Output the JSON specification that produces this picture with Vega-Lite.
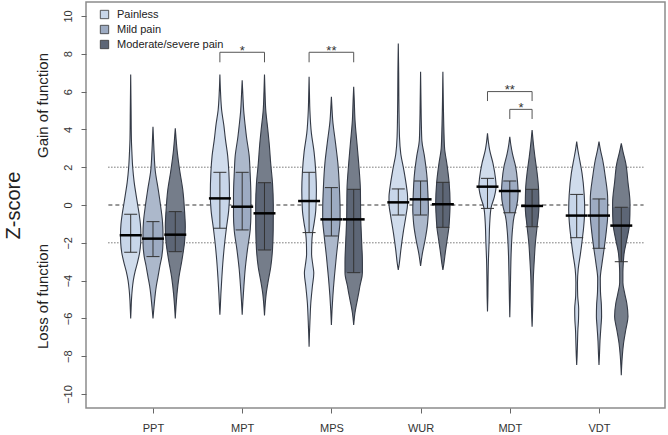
{
"$schema": "https://vega.github.io/schema/vega-lite/v6.json",
"width": 579, "height": 406, "autosize": "none",
"padding": {"left": 86, "top": 2, "right": 3, "bottom": 27},
"config": {"font": "Liberation Sans", "view": {"stroke": "#8c8c8c", "strokeWidth": 1.5}},
"resolve": {"axis": {"x": "independent", "y": "independent"}},
"datasets": {
"violin": [
{"t":"PPT","g":"P","z":6.9,"w":0},{"t":"PPT","g":"P","z":5,"w":0.4},{"t":"PPT","g":"P","z":3.5,"w":0.7},{"t":"PPT","g":"P","z":2.8,"w":1.2},{"t":"PPT","g":"P","z":2,"w":2},{"t":"PPT","g":"P","z":1.2,"w":3.5},{"t":"PPT","g":"P","z":0.5,"w":5.5},{"t":"PPT","g":"P","z":0,"w":7},{"t":"PPT","g":"P","z":-0.49,"w":8.5},{"t":"PPT","g":"P","z":-1,"w":9.7},{"t":"PPT","g":"P","z":-1.6,"w":10.2},{"t":"PPT","g":"P","z":-2,"w":10},{"t":"PPT","g":"P","z":-2.5,"w":9},{"t":"PPT","g":"P","z":-3,"w":7},{"t":"PPT","g":"P","z":-3.5,"w":4.5},{"t":"PPT","g":"P","z":-4,"w":2.6},{"t":"PPT","g":"P","z":-4.5,"w":1.5},{"t":"PPT","g":"P","z":-5,"w":0.8},{"t":"PPT","g":"P","z":-5.5,"w":0.4},{"t":"PPT","g":"P","z":-6,"w":0},
{"t":"PPT","g":"M","z":4.14,"w":0},{"t":"PPT","g":"M","z":3.5,"w":0.5},{"t":"PPT","g":"M","z":2.9,"w":1},{"t":"PPT","g":"M","z":1.8,"w":2.3},{"t":"PPT","g":"M","z":0.8,"w":5.3},{"t":"PPT","g":"M","z":0,"w":7.5},{"t":"PPT","g":"M","z":-0.88,"w":9.5},{"t":"PPT","g":"M","z":-1.5,"w":10},{"t":"PPT","g":"M","z":-2,"w":10},{"t":"PPT","g":"M","z":-2.73,"w":8.8},{"t":"PPT","g":"M","z":-3.2,"w":7},{"t":"PPT","g":"M","z":-3.8,"w":5},{"t":"PPT","g":"M","z":-4.3,"w":3.3},{"t":"PPT","g":"M","z":-4.7,"w":2.3},{"t":"PPT","g":"M","z":-5.4,"w":1},{"t":"PPT","g":"M","z":-6,"w":0},
{"t":"PPT","g":"S","z":4.06,"w":0},{"t":"PPT","g":"S","z":3.5,"w":0.8},{"t":"PPT","g":"S","z":2.9,"w":1.8},{"t":"PPT","g":"S","z":1.8,"w":4.5},{"t":"PPT","g":"S","z":0.8,"w":7.5},{"t":"PPT","g":"S","z":-0.35,"w":9.3},{"t":"PPT","g":"S","z":-1.15,"w":10},{"t":"PPT","g":"S","z":-2,"w":9.2},{"t":"PPT","g":"S","z":-2.47,"w":8},{"t":"PPT","g":"S","z":-2.9,"w":6.7},{"t":"PPT","g":"S","z":-3.8,"w":3.7},{"t":"PPT","g":"S","z":-4.7,"w":1.7},{"t":"PPT","g":"S","z":-5.3,"w":0.8},{"t":"PPT","g":"S","z":-6,"w":0},
{"t":"MPT","g":"P","z":6.9,"w":0},{"t":"MPT","g":"P","z":6,"w":0.6},{"t":"MPT","g":"P","z":5,"w":1.8},{"t":"MPT","g":"P","z":4.2,"w":4},{"t":"MPT","g":"P","z":3.5,"w":5.5},{"t":"MPT","g":"P","z":2.6,"w":7.8},{"t":"MPT","g":"P","z":1.73,"w":9},{"t":"MPT","g":"P","z":0.5,"w":9.6},{"t":"MPT","g":"P","z":-0.3,"w":8.8},{"t":"MPT","g":"P","z":-1.23,"w":6.5},{"t":"MPT","g":"P","z":-2,"w":4.8},{"t":"MPT","g":"P","z":-2.9,"w":3.2},{"t":"MPT","g":"P","z":-3.8,"w":2},{"t":"MPT","g":"P","z":-4.7,"w":1},{"t":"MPT","g":"P","z":-5.3,"w":0.5},{"t":"MPT","g":"P","z":-5.8,"w":0},
{"t":"MPT","g":"M","z":6.6,"w":0},{"t":"MPT","g":"M","z":5.8,"w":0.7},{"t":"MPT","g":"M","z":5,"w":1.5},{"t":"MPT","g":"M","z":4.2,"w":3},{"t":"MPT","g":"M","z":3.6,"w":4.3},{"t":"MPT","g":"M","z":2.6,"w":7},{"t":"MPT","g":"M","z":1.73,"w":7.9},{"t":"MPT","g":"M","z":0.5,"w":8.7},{"t":"MPT","g":"M","z":-0.6,"w":8.7},{"t":"MPT","g":"M","z":-1.32,"w":8},{"t":"MPT","g":"M","z":-2.35,"w":5.3},{"t":"MPT","g":"M","z":-3.4,"w":3},{"t":"MPT","g":"M","z":-4.3,"w":1.7},{"t":"MPT","g":"M","z":-5.1,"w":0.7},{"t":"MPT","g":"M","z":-5.8,"w":0},
{"t":"MPT","g":"S","z":6.9,"w":0},{"t":"MPT","g":"S","z":6,"w":0.5},{"t":"MPT","g":"S","z":5,"w":1.3},{"t":"MPT","g":"S","z":4,"w":3.3},{"t":"MPT","g":"S","z":3.25,"w":4.7},{"t":"MPT","g":"S","z":2.2,"w":6.2},{"t":"MPT","g":"S","z":1.18,"w":8},{"t":"MPT","g":"S","z":0,"w":8.8},{"t":"MPT","g":"S","z":-1.3,"w":8.7},{"t":"MPT","g":"S","z":-2.38,"w":8},{"t":"MPT","g":"S","z":-3.3,"w":6.2},{"t":"MPT","g":"S","z":-4,"w":3.8},{"t":"MPT","g":"S","z":-4.7,"w":1.7},{"t":"MPT","g":"S","z":-5.2,"w":0.8},{"t":"MPT","g":"S","z":-5.85,"w":0},
{"t":"MPS","g":"P","z":6.79,"w":0},{"t":"MPS","g":"P","z":5.8,"w":0.4},{"t":"MPS","g":"P","z":5,"w":0.8},{"t":"MPS","g":"P","z":3.8,"w":2.3},{"t":"MPS","g":"P","z":2.8,"w":5},{"t":"MPS","g":"P","z":1.73,"w":6.7},{"t":"MPS","g":"P","z":0.8,"w":7.3},{"t":"MPS","g":"P","z":-0.26,"w":6.7},{"t":"MPS","g":"P","z":-0.97,"w":5},{"t":"MPS","g":"P","z":-1.46,"w":3.5},{"t":"MPS","g":"P","z":-2,"w":2.7},{"t":"MPS","g":"P","z":-2.6,"w":2.5},{"t":"MPS","g":"P","z":-3.2,"w":3.8},{"t":"MPS","g":"P","z":-3.6,"w":4.7},{"t":"MPS","g":"P","z":-4.3,"w":3.3},{"t":"MPS","g":"P","z":-5.2,"w":1.7},{"t":"MPS","g":"P","z":-6.1,"w":0.9},{"t":"MPS","g":"P","z":-6.8,"w":0.4},{"t":"MPS","g":"P","z":-7.5,"w":0},
{"t":"MPS","g":"M","z":5.73,"w":0},{"t":"MPS","g":"M","z":5.1,"w":0.6},{"t":"MPS","g":"M","z":4.5,"w":1.3},{"t":"MPS","g":"M","z":3.25,"w":4.2},{"t":"MPS","g":"M","z":2.2,"w":6.5},{"t":"MPS","g":"M","z":0.92,"w":8},{"t":"MPS","g":"M","z":-0.26,"w":8.7},{"t":"MPS","g":"M","z":-0.76,"w":8.7},{"t":"MPS","g":"M","z":-1.64,"w":7.2},{"t":"MPS","g":"M","z":-2.7,"w":5},{"t":"MPS","g":"M","z":-3.8,"w":3},{"t":"MPS","g":"M","z":-4.8,"w":1.5},{"t":"MPS","g":"M","z":-5.6,"w":0.6},{"t":"MPS","g":"M","z":-6.35,"w":0},
{"t":"MPS","g":"S","z":6.26,"w":0},{"t":"MPS","g":"S","z":5.5,"w":0.6},{"t":"MPS","g":"S","z":4.5,"w":1.3},{"t":"MPS","g":"S","z":3.25,"w":3.3},{"t":"MPS","g":"S","z":2.2,"w":5},{"t":"MPS","g":"S","z":0.83,"w":6.7},{"t":"MPS","g":"S","z":-0.6,"w":7},{"t":"MPS","g":"S","z":-2,"w":8},{"t":"MPS","g":"S","z":-3,"w":8.7},{"t":"MPS","g":"S","z":-3.58,"w":8.7},{"t":"MPS","g":"S","z":-4.3,"w":6.2},{"t":"MPS","g":"S","z":-4.8,"w":4.5},{"t":"MPS","g":"S","z":-5.2,"w":3},{"t":"MPS","g":"S","z":-5.7,"w":1.3},{"t":"MPS","g":"S","z":-6.35,"w":0},
{"t":"WUR","g":"P","z":8.55,"w":0},{"t":"WUR","g":"P","z":7,"w":0.4},{"t":"WUR","g":"P","z":5,"w":0.7},{"t":"WUR","g":"P","z":3.6,"w":1.2},{"t":"WUR","g":"P","z":2.7,"w":2.5},{"t":"WUR","g":"P","z":1.86,"w":5.5},{"t":"WUR","g":"P","z":0.85,"w":8.5},{"t":"WUR","g":"P","z":0.45,"w":9.3},{"t":"WUR","g":"P","z":0,"w":9.2},{"t":"WUR","g":"P","z":-0.53,"w":7.8},{"t":"WUR","g":"P","z":-1.5,"w":4.8},{"t":"WUR","g":"P","z":-2.4,"w":2.5},{"t":"WUR","g":"P","z":-3.1,"w":1},{"t":"WUR","g":"P","z":-3.44,"w":0},
{"t":"WUR","g":"M","z":7.05,"w":0},{"t":"WUR","g":"M","z":5.5,"w":0.4},{"t":"WUR","g":"M","z":4.2,"w":0.8},{"t":"WUR","g":"M","z":3.4,"w":1.3},{"t":"WUR","g":"M","z":2.6,"w":3.8},{"t":"WUR","g":"M","z":1.6,"w":6.2},{"t":"WUR","g":"M","z":1.27,"w":6.7},{"t":"WUR","g":"M","z":0.74,"w":7.2},{"t":"WUR","g":"M","z":-0.26,"w":7.8},{"t":"WUR","g":"M","z":-0.53,"w":7.6},{"t":"WUR","g":"M","z":-0.97,"w":7},{"t":"WUR","g":"M","z":-1.85,"w":4.5},{"t":"WUR","g":"M","z":-2.56,"w":1.8},{"t":"WUR","g":"M","z":-3.23,"w":0},
{"t":"WUR","g":"S","z":7.05,"w":0},{"t":"WUR","g":"S","z":5.5,"w":0.4},{"t":"WUR","g":"S","z":4,"w":1},{"t":"WUR","g":"S","z":3,"w":1.7},{"t":"WUR","g":"S","z":2.1,"w":4.2},{"t":"WUR","g":"S","z":1.2,"w":6.2},{"t":"WUR","g":"S","z":0.1,"w":7.2},{"t":"WUR","g":"S","z":-0.97,"w":6.3},{"t":"WUR","g":"S","z":-1.18,"w":6},{"t":"WUR","g":"S","z":-1.68,"w":4.7},{"t":"WUR","g":"S","z":-2.4,"w":2.7},{"t":"WUR","g":"S","z":-3.1,"w":1},{"t":"WUR","g":"S","z":-3.44,"w":0},
{"t":"MDT","g":"P","z":3.79,"w":0},{"t":"MDT","g":"P","z":3.3,"w":1},{"t":"MDT","g":"P","z":2.9,"w":2.2},{"t":"MDT","g":"P","z":2.2,"w":5.5},{"t":"MDT","g":"P","z":1.41,"w":8},{"t":"MDT","g":"P","z":1,"w":8.6},{"t":"MDT","g":"P","z":0.45,"w":7},{"t":"MDT","g":"P","z":-0.1,"w":3.8},{"t":"MDT","g":"P","z":-0.18,"w":3.5},{"t":"MDT","g":"P","z":-1,"w":2.2},{"t":"MDT","g":"P","z":-2,"w":1.6},{"t":"MDT","g":"P","z":-2.8,"w":1},{"t":"MDT","g":"P","z":-3.8,"w":0.6},{"t":"MDT","g":"P","z":-4.8,"w":0.4},{"t":"MDT","g":"P","z":-5.64,"w":0},
{"t":"MDT","g":"M","z":3.61,"w":0},{"t":"MDT","g":"M","z":3.2,"w":1},{"t":"MDT","g":"M","z":2.7,"w":2.7},{"t":"MDT","g":"M","z":2.04,"w":5.8},{"t":"MDT","g":"M","z":1.27,"w":7.7},{"t":"MDT","g":"M","z":0.62,"w":8.3},{"t":"MDT","g":"M","z":-0.1,"w":6.7},{"t":"MDT","g":"M","z":-0.41,"w":5.2},{"t":"MDT","g":"M","z":-0.6,"w":4.3},{"t":"MDT","g":"M","z":-1.3,"w":2.7},{"t":"MDT","g":"M","z":-2.35,"w":1.5},{"t":"MDT","g":"M","z":-3.8,"w":0.8},{"t":"MDT","g":"M","z":-5,"w":0.4},{"t":"MDT","g":"M","z":-5.94,"w":0},
{"t":"MDT","g":"S","z":3.97,"w":0},{"t":"MDT","g":"S","z":3.4,"w":1},{"t":"MDT","g":"S","z":2.56,"w":2.8},{"t":"MDT","g":"S","z":1.7,"w":5},{"t":"MDT","g":"S","z":0.83,"w":6.5},{"t":"MDT","g":"S","z":-0.1,"w":6.8},{"t":"MDT","g":"S","z":-1.15,"w":5},{"t":"MDT","g":"S","z":-2,"w":3.3},{"t":"MDT","g":"S","z":-2.9,"w":2.2},{"t":"MDT","g":"S","z":-3.8,"w":1.3},{"t":"MDT","g":"S","z":-5.2,"w":0.7},{"t":"MDT","g":"S","z":-6,"w":0.3},{"t":"MDT","g":"S","z":-6.44,"w":0},
{"t":"VDT","g":"P","z":3.35,"w":0},{"t":"VDT","g":"P","z":2.9,"w":1.2},{"t":"VDT","g":"P","z":2.38,"w":3},{"t":"VDT","g":"P","z":1.7,"w":5.3},{"t":"VDT","g":"P","z":0.56,"w":7.5},{"t":"VDT","g":"P","z":-0.26,"w":8},{"t":"VDT","g":"P","z":-1.15,"w":7},{"t":"VDT","g":"P","z":-1.73,"w":5.8},{"t":"VDT","g":"P","z":-2.6,"w":3.7},{"t":"VDT","g":"P","z":-3.4,"w":1.5},{"t":"VDT","g":"P","z":-4.1,"w":0.8},{"t":"VDT","g":"P","z":-4.8,"w":1},{"t":"VDT","g":"P","z":-5.5,"w":2},{"t":"VDT","g":"P","z":-6.1,"w":1.8},{"t":"VDT","g":"P","z":-6.6,"w":1.2},{"t":"VDT","g":"P","z":-7.3,"w":0.8},{"t":"VDT","g":"P","z":-8,"w":0.4},{"t":"VDT","g":"P","z":-8.47,"w":0},
{"t":"VDT","g":"M","z":3.35,"w":0},{"t":"VDT","g":"M","z":2.9,"w":1.5},{"t":"VDT","g":"M","z":2.38,"w":3.7},{"t":"VDT","g":"M","z":1.5,"w":6.3},{"t":"VDT","g":"M","z":0.32,"w":8.7},{"t":"VDT","g":"M","z":-0.56,"w":8.7},{"t":"VDT","g":"M","z":-1.3,"w":7.5},{"t":"VDT","g":"M","z":-2.29,"w":5.2},{"t":"VDT","g":"M","z":-3.1,"w":3},{"t":"VDT","g":"M","z":-3.9,"w":1.3},{"t":"VDT","g":"M","z":-4.6,"w":1.5},{"t":"VDT","g":"M","z":-5.3,"w":2.4},{"t":"VDT","g":"M","z":-5.9,"w":2.6},{"t":"VDT","g":"M","z":-6.4,"w":2},{"t":"VDT","g":"M","z":-7.2,"w":1},{"t":"VDT","g":"M","z":-7.9,"w":0.5},{"t":"VDT","g":"M","z":-8.47,"w":0},
{"t":"VDT","g":"S","z":3.26,"w":0},{"t":"VDT","g":"S","z":2.8,"w":1.8},{"t":"VDT","g":"S","z":2.2,"w":4.5},{"t":"VDT","g":"S","z":1.2,"w":6.7},{"t":"VDT","g":"S","z":0.1,"w":8.7},{"t":"VDT","g":"S","z":-0.12,"w":8.7},{"t":"VDT","g":"S","z":-0.97,"w":8.3},{"t":"VDT","g":"S","z":-1.85,"w":5.5},{"t":"VDT","g":"S","z":-2.56,"w":2.8},{"t":"VDT","g":"S","z":-3,"w":2.1},{"t":"VDT","g":"S","z":-3.6,"w":1.6},{"t":"VDT","g":"S","z":-4.1,"w":1.6},{"t":"VDT","g":"S","z":-4.7,"w":3.5},{"t":"VDT","g":"S","z":-5.2,"w":5.5},{"t":"VDT","g":"S","z":-5.9,"w":6.7},{"t":"VDT","g":"S","z":-6.6,"w":4.5},{"t":"VDT","g":"S","z":-7.3,"w":2.3},{"t":"VDT","g":"S","z":-8,"w":1},{"t":"VDT","g":"S","z":-8.5,"w":0.4},{"t":"VDT","g":"S","z":-9,"w":0}
],
"summary": [
{"k":"PPTP","t":"PPT","g":"P","lo":-2.5,"hi":-0.49,"m":-1.6},
{"k":"PPTM","t":"PPT","g":"M","lo":-2.73,"hi":-0.88,"m":-1.78},
{"k":"PPTS","t":"PPT","g":"S","lo":-2.47,"hi":-0.35,"m":-1.57},
{"k":"MPTP","t":"MPT","g":"P","lo":-1.23,"hi":1.73,"m":0.35},
{"k":"MPTM","t":"MPT","g":"M","lo":-1.32,"hi":1.73,"m":-0.09},
{"k":"MPTS","t":"MPT","g":"S","lo":-2.38,"hi":1.18,"m":-0.44},
{"k":"MPSP","t":"MPS","g":"P","lo":-1.46,"hi":1.73,"m":0.21},
{"k":"MPSM","t":"MPS","g":"M","lo":-1.64,"hi":0.92,"m":-0.76},
{"k":"MPSS","t":"MPS","g":"S","lo":-3.58,"hi":0.83,"m":-0.76},
{"k":"WURP","t":"WUR","g":"P","lo":-0.53,"hi":0.85,"m":0.14},
{"k":"WURM","t":"WUR","g":"M","lo":-0.53,"hi":1.27,"m":0.3},
{"k":"WURS","t":"WUR","g":"S","lo":-1.18,"hi":1.2,"m":0.04},
{"k":"MDTP","t":"MDT","g":"P","lo":-0.18,"hi":1.41,"m":0.97},
{"k":"MDTM","t":"MDT","g":"M","lo":-0.41,"hi":1.27,"m":0.74},
{"k":"MDTS","t":"MDT","g":"S","lo":-1.15,"hi":0.83,"m":-0.05},
{"k":"VDTP","t":"VDT","g":"P","lo":-1.73,"hi":0.56,"m":-0.56},
{"k":"VDTM","t":"VDT","g":"M","lo":-2.29,"hi":0.32,"m":-0.56},
{"k":"VDTS","t":"VDT","g":"S","lo":-3.0,"hi":-0.12,"m":-1.09}
],
"refs": [{"z":0,"kind":"dash"},{"z":2,"kind":"dot"},{"z":-2,"kind":"dot"}],
"brackets": [
{"t":"MPT","a":"P","b":"S","top":8.08,"bot":7.55,"s":"*"},
{"t":"MPS","a":"P","b":"S","top":8.08,"bot":7.55,"s":"**"},
{"t":"MDT","a":"P","b":"S","top":6.0,"bot":5.5,"s":"**"},
{"t":"MDT","a":"M","b":"S","top":5.06,"bot":4.55,"s":"*"}
]
},
"layer": [
{
"data": {"name": "refs"},
"mark": {"type": "rule", "color": "#333", "strokeWidth": 1},
"encoding": {
"y": {"field": "z", "type": "quantitative", "scale": {"domain": [-10.74, 10.74], "nice": false, "zero": false},
 "axis": {"orient": "left", "values": [-10,-8,-6,-4,-2,0,2,4,6,8,10], "labelAngle": -90, "labelAlign": "center", "labelBaseline": "bottom", "labelPadding": 8, "labelFontSize": 11, "labelColor": "#333", "tickSize": 5, "tickColor": "#666", "domain": false, "grid": false, "title": "Z-score", "titleFontSize": 20, "titleFontWeight": "normal", "titleColor": "#222", "titleX": -73, "titleY": 203, "titleAngle": -90, "titleAlign": "center", "titleBaseline": "middle"}},
"x": {"datum": 0.5, "type": "quantitative", "scale": {"domain": [0.249, 6.74], "nice": false, "zero": false}, "axis": null},
"x2": {"datum": 6.5},
"strokeDash": {"field": "kind", "type": "nominal", "scale": {"domain": ["dash", "dot"], "range": [[4, 3], [1, 2]]}, "legend": null}
}
},
{
"data": {"name": "violin"},
"transform": [
{"calculate": "indexof(['PPT','MPT','MPS','WUR','MDT','VDT'], datum.t) + 1 + (indexof(['P','M','S'], datum.g) - 1) * 0.25", "as": "xc"},
{"calculate": "datum.xc - datum.w * 0.01121", "as": "xl"},
{"calculate": "datum.xc + datum.w * 0.01121", "as": "xr"}
],
"mark": {"type": "area", "orient": "horizontal", "interpolate": "monotone", "fill": "white"},
"encoding": {
"y": {"field": "z", "type": "quantitative", "scale": {"domain": [-10.74, 10.74], "nice": false, "zero": false},
 "axis": {"orient": "left", "title": "Gain of function", "labels": false, "ticks": false, "domain": false, "grid": false, "titleFontSize": 15, "titleFontWeight": "normal", "titleColor": "#222", "titleX": -44, "titleY": 103, "titleAngle": -90, "titleAlign": "center", "titleBaseline": "middle"}},
"x": {"field": "xl", "type": "quantitative", "scale": {"domain": [0.249, 6.74], "nice": false, "zero": false},
 "axis": {"orient": "bottom", "values": [1,2,3,4,5,6], "labelExpr": "datum.value == 1 ? 'PPT' : datum.value == 2 ? 'MPT' : datum.value == 3 ? 'MPS' : datum.value == 4 ? 'WUR' : datum.value == 5 ? 'MDT' : 'VDT'", "title": null, "labelFontSize": 11, "labelColor": "#333", "tickSize": 5, "tickColor": "#666", "labelPadding": 9, "domain": false, "grid": false, "labelFlush": false}},
"x2": {"field": "xr"},
"detail": [{"field": "t"}, {"field": "g"}]
}
},
{
"data": {"name": "violin"},
"transform": [
{"calculate": "indexof(['PPT','MPT','MPS','WUR','MDT','VDT'], datum.t) + 1 + (indexof(['P','M','S'], datum.g) - 1) * 0.25", "as": "xc"},
{"calculate": "datum.xc - datum.w * 0.01121", "as": "xl"},
{"calculate": "datum.xc + datum.w * 0.01121", "as": "xr"}
],
"mark": {"type": "area", "orient": "horizontal", "interpolate": "monotone", "fillOpacity": 0.85},
"encoding": {
"y": {"field": "z", "type": "quantitative", "scale": {"domain": [-10.74, 10.74], "nice": false, "zero": false}, "axis": null},
"x": {"field": "xl", "type": "quantitative", "scale": {"domain": [0.249, 6.74], "nice": false, "zero": false}, "axis": null},
"x2": {"field": "xr"},
"color": {"field": "g", "type": "nominal", "scale": {"domain": ["P", "M", "S"], "range": ["#c8d6e9", "#9dabc2", "#5d6676"]},
 "legend": {"title": null, "orient": "none", "legendX": 13, "legendY": 7, "symbolType": "square", "symbolSize": 70, "symbolStrokeColor": "#333", "symbolStrokeWidth": 0.8, "symbolOpacity": 1, "labelFontSize": 11, "labelColor": "#222", "rowPadding": 2, "labelOffset": 7, "padding": 0, "labelExpr": "datum.label == 'P' ? 'Painless' : datum.label == 'M' ? 'Mild pain' : 'Moderate/severe pain'"}},
"detail": {"field": "t"}
}
},
{
"data": {"name": "violin"},
"transform": [
{"calculate": "indexof(['PPT','MPT','MPS','WUR','MDT','VDT'], datum.t) + 1 + (indexof(['P','M','S'], datum.g) - 1) * 0.25", "as": "xc"},
{"calculate": "datum.xc - datum.w * 0.01121", "as": "xl"},
{"calculate": "datum.xc + datum.w * 0.01121", "as": "xr"},
{"calculate": "datum.t + datum.g", "as": "k"},
{"lookup": "k", "from": {"data": {"name": "summary"}, "key": "k", "fields": ["lo", "hi"]}},
{"filter": "datum.z >= datum.lo - 0.001 && datum.z <= datum.hi + 0.001"}
],
"mark": {"type": "area", "orient": "horizontal", "interpolate": "monotone"},
"encoding": {
"y": {"field": "z", "type": "quantitative", "scale": {"domain": [-10.74, 10.74], "nice": false, "zero": false},
 "axis": {"orient": "left", "title": "Loss of function", "labels": false, "ticks": false, "domain": false, "grid": false, "titleFontSize": 15, "titleFontWeight": "normal", "titleColor": "#222", "titleX": -44, "titleY": 294, "titleAngle": -90, "titleAlign": "center", "titleBaseline": "middle"}},
"x": {"field": "xl", "type": "quantitative", "scale": {"domain": [0.249, 6.74], "nice": false, "zero": false}, "axis": null},
"x2": {"field": "xr"},
"color": {"field": "g", "type": "nominal", "scale": {"domain": ["P", "M", "S"], "range": ["#c8d6e9", "#9dabc2", "#5d6676"]}, "legend": null},
"detail": {"field": "t"}
}
},
{
"data": {"name": "violin"},
"transform": [
{"calculate": "indexof(['PPT','MPT','MPS','WUR','MDT','VDT'], datum.t) + 1 + (indexof(['P','M','S'], datum.g) - 1) * 0.25", "as": "xc"},
{"calculate": "datum.xc - datum.w * 0.01121", "as": "xl"},
{"calculate": "datum.xc + datum.w * 0.01121", "as": "xr"}
],
"mark": {"type": "area", "orient": "horizontal", "interpolate": "monotone", "fillOpacity": 0, "stroke": "#343a46", "strokeWidth": 1.1},
"encoding": {
"y": {"field": "z", "type": "quantitative", "scale": {"domain": [-10.74, 10.74], "nice": false, "zero": false}, "axis": null},
"x": {"field": "xl", "type": "quantitative", "scale": {"domain": [0.249, 6.74], "nice": false, "zero": false}, "axis": null},
"x2": {"field": "xr"},
"detail": [{"field": "t"}, {"field": "g"}]
}
},
{
"data": {"name": "summary"},
"transform": [
{"calculate": "indexof(['PPT','MPT','MPS','WUR','MDT','VDT'], datum.t) + 1 + (indexof(['P','M','S'], datum.g) - 1) * 0.25", "as": "xc"}
],
"mark": {"type": "rule", "color": "#333", "strokeWidth": 1},
"encoding": {
"x": {"field": "xc", "type": "quantitative", "scale": {"domain": [0.249, 6.74], "nice": false, "zero": false}, "axis": null},
"y": {"field": "lo", "type": "quantitative", "scale": {"domain": [-10.74, 10.74], "nice": false, "zero": false}, "axis": null},
"y2": {"field": "hi"}
}
},
{
"data": {"name": "summary"},
"transform": [
{"calculate": "indexof(['PPT','MPT','MPS','WUR','MDT','VDT'], datum.t) + 1 + (indexof(['P','M','S'], datum.g) - 1) * 0.25", "as": "xc"},
{"fold": ["lo", "hi"], "as": ["cap", "cz"]},
{"calculate": "datum.xc - 0.073", "as": "cl"},
{"calculate": "datum.xc + 0.073", "as": "cr"}
],
"mark": {"type": "rule", "color": "#333", "strokeWidth": 1},
"encoding": {
"x": {"field": "cl", "type": "quantitative", "scale": {"domain": [0.249, 6.74], "nice": false, "zero": false}, "axis": null},
"x2": {"field": "cr"},
"y": {"field": "cz", "type": "quantitative", "scale": {"domain": [-10.74, 10.74], "nice": false, "zero": false}, "axis": null}
}
},
{
"data": {"name": "summary"},
"transform": [
{"calculate": "indexof(['PPT','MPT','MPS','WUR','MDT','VDT'], datum.t) + 1 + (indexof(['P','M','S'], datum.g) - 1) * 0.25", "as": "xc"},
{"calculate": "datum.xc - 0.123", "as": "ml"},
{"calculate": "datum.xc + 0.123", "as": "mr"}
],
"mark": {"type": "rule", "color": "#000", "strokeWidth": 2.5},
"encoding": {
"x": {"field": "ml", "type": "quantitative", "scale": {"domain": [0.249, 6.74], "nice": false, "zero": false}, "axis": null},
"x2": {"field": "mr"},
"y": {"field": "m", "type": "quantitative", "scale": {"domain": [-10.74, 10.74], "nice": false, "zero": false}, "axis": null}
}
},
{
"data": {"name": "brackets"},
"transform": [
{"calculate": "indexof(['PPT','MPT','MPS','WUR','MDT','VDT'], datum.t) + 1 + (indexof(['P','M','S'], datum.a) - 1) * 0.25", "as": "xa"},
{"calculate": "indexof(['PPT','MPT','MPS','WUR','MDT','VDT'], datum.t) + 1 + (indexof(['P','M','S'], datum.b) - 1) * 0.25", "as": "xb"}
],
"mark": {"type": "rule", "color": "#555", "strokeWidth": 1},
"encoding": {
"x": {"field": "xa", "type": "quantitative", "scale": {"domain": [0.249, 6.74], "nice": false, "zero": false}, "axis": null},
"x2": {"field": "xb"},
"y": {"field": "top", "type": "quantitative", "scale": {"domain": [-10.74, 10.74], "nice": false, "zero": false}, "axis": null}
}
},
{
"data": {"name": "brackets"},
"transform": [
{"calculate": "indexof(['PPT','MPT','MPS','WUR','MDT','VDT'], datum.t) + 1 + (indexof(['P','M','S'], datum.a) - 1) * 0.25", "as": "xa"},
{"calculate": "indexof(['PPT','MPT','MPS','WUR','MDT','VDT'], datum.t) + 1 + (indexof(['P','M','S'], datum.b) - 1) * 0.25", "as": "xb"},
{"fold": ["xa", "xb"], "as": ["side", "lx"]}
],
"mark": {"type": "rule", "color": "#555", "strokeWidth": 1},
"encoding": {
"x": {"field": "lx", "type": "quantitative", "scale": {"domain": [0.249, 6.74], "nice": false, "zero": false}, "axis": null},
"y": {"field": "bot", "type": "quantitative", "scale": {"domain": [-10.74, 10.74], "nice": false, "zero": false}, "axis": null},
"y2": {"field": "top"}
}
},
{
"data": {"name": "brackets"},
"transform": [
{"calculate": "indexof(['PPT','MPT','MPS','WUR','MDT','VDT'], datum.t) + 1 + ((indexof(['P','M','S'], datum.a) + indexof(['P','M','S'], datum.b)) / 2 - 1) * 0.25", "as": "xm"}
],
"mark": {"type": "text", "fontSize": 13, "color": "#333", "baseline": "alphabetic", "align": "center", "dy": 2.5},
"encoding": {
"x": {"field": "xm", "type": "quantitative", "scale": {"domain": [0.249, 6.74], "nice": false, "zero": false}, "axis": null},
"y": {"field": "top", "type": "quantitative", "scale": {"domain": [-10.74, 10.74], "nice": false, "zero": false}, "axis": null},
"text": {"field": "s"}
}
}
]
}
